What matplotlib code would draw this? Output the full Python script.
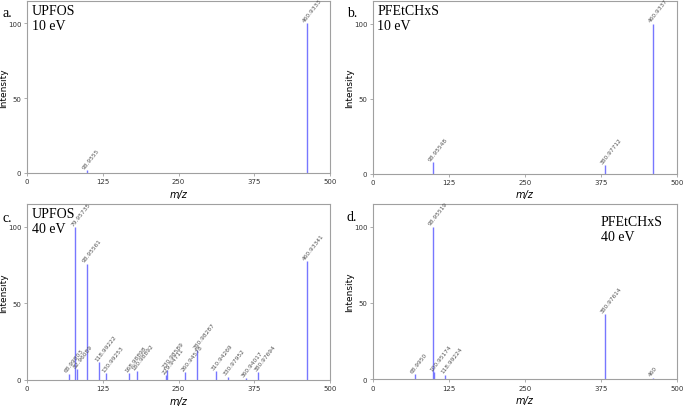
import numpy as np
import matplotlib.pyplot as plt

# peak lists (m/z, relative intensity, label)
a_mz = [98.9555, 460.9333]
a_int = [1.7, 100]
a_lab = ["98.9555", "460.9333"]

b_mz = [98.95548, 380.97712, 460.9337]
b_int = [7.7, 5.5, 100]
b_lab = ["98.95548", "380.97712", "460.9337"]

c_mz = [68.99803, 79.95735, 82.96089, 98.95561, 118.99222, 130.99253, 168.98898,
        180.98892, 229.94711, 230.98589, 260.94578, 280.98287, 310.94269,
        330.97952, 360.94017, 380.97694, 460.93341]
c_int = [4.0, 100, 7.0, 76, 11.6, 4.4, 4.4, 5.5, 3.0, 6.6, 5.0, 19.3, 5.7,
         2.2, 1.0, 5.0, 77.6]
c_lab = ["68.99803", "79.95735", "82.96089", "98.95561", "118.99222", "130.99253",
         "168.98898", "180.98892", "229.94711", "230.98589", "260.94578",
         "280.98287", "310.94269", "330.97952", "360.94017", "380.97694", "460.93341"]

d_mz = [68.9950, 98.95519, 100.95174, 118.99224, 380.97614, 460]
d_int = [3.3, 100, 4.4, 2.8, 42.8, 1.0]
d_lab = ["68.9950", "98.95519", "100.95174", "118.99224", "380.97614", "460"]

panels = [
    ("a.", "UPFOS\n10 eV", "left", a_mz, a_int, a_lab),
    ("b.", "PFEtCHxS\n10 eV", "left", b_mz, b_int, b_lab),
    ("c.", "UPFOS\n40 eV", "left", c_mz, c_int, c_lab),
    ("d.", "PFEtCHxS\n40 eV", "right", d_mz, d_int, d_lab),
]

# axes boxes in figure fraction [left, bottom, width, height]
boxes = [[0.0395, 0.576, 0.444, 0.419],
         [0.546, 0.574, 0.445, 0.421],
         [0.0395, 0.071, 0.444, 0.429],
         [0.546, 0.073, 0.445, 0.427]]
letter_pos = [(0.004, 0.968), (0.508, 0.968), (0.004, 0.466), (0.508, 0.47)]

fig = plt.figure(figsize=(6.83, 4.1), dpi=100)
edge = "#a0a0a0"
line_col = "#7777ff"

for i, (letter, title, side, mz, inten, labs) in enumerate(panels):
    ax = fig.add_axes(boxes[i])
    ax.vlines(mz, 0, inten, color=line_col, linewidth=1.0)
    for x, y, s in zip(mz, inten, labs):
        ax.text(x - 2, y + 0.5, s, rotation=52, rotation_mode="anchor",
                ha="left", va="bottom", fontsize=4.2, color="#555555")
    ax.set_xlim(0, 500)
    ax.set_ylim(0, 115)
    ax.set_xticks([0, 125, 250, 375, 500])
    ax.set_yticks([0, 50, 100])
    ax.tick_params(labelsize=5, length=2, width=0.6, color=edge, labelcolor="#333333", pad=2)
    for sp in ax.spines.values():
        sp.set_color(edge)
        sp.set_linewidth(0.8)
    ax.set_ylabel("Intensity", fontsize=6.5, labelpad=0)
    ax.set_xlabel("m/z", fontsize=7, style="italic", labelpad=3)
    if side == "left":
        ax.text(0.015, 0.985, title, transform=ax.transAxes, ha="left", va="top",
                fontsize=10, family="Liberation Serif", linespacing=1.25)
    else:
        ax.text(0.75, 0.94, title, transform=ax.transAxes, ha="left", va="top",
                fontsize=10, family="Liberation Serif", linespacing=1.25)
    fig.text(letter_pos[i][0], letter_pos[i][1], letter, fontsize=10,
             family="Liberation Serif", va="center")

fig.savefig("out.png", dpi=100)
